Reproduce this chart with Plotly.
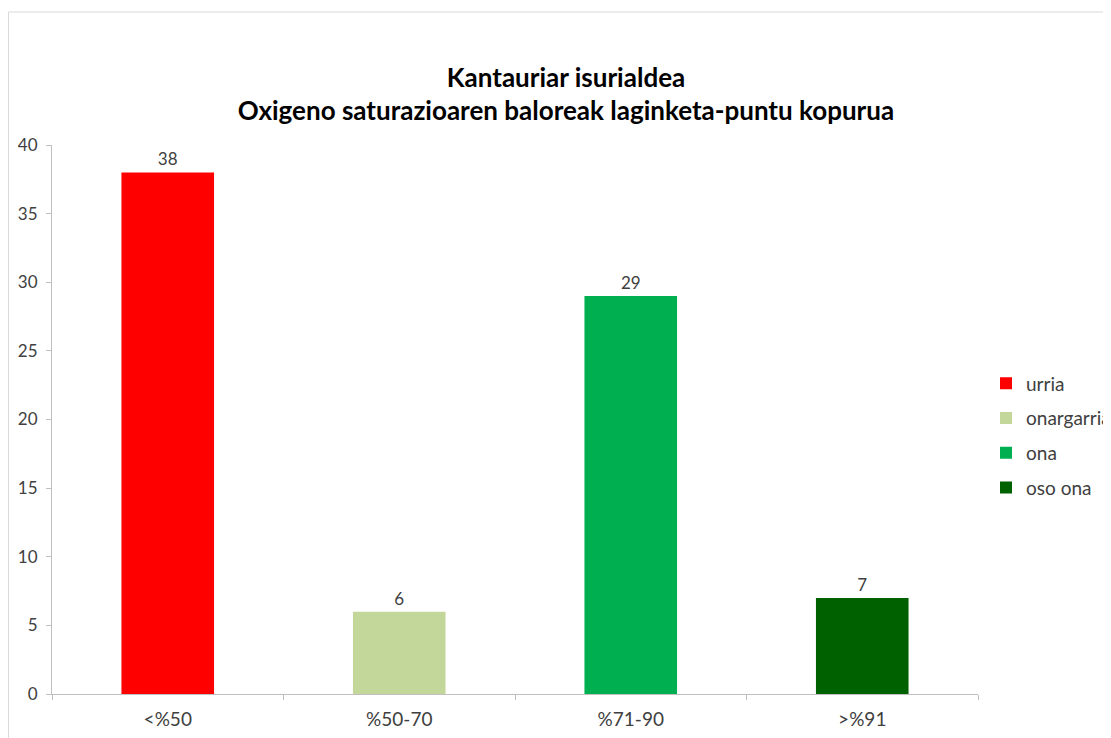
import plotly.graph_objects as go

categories = ["<%50", "%50-70", "%71-90", ">%91"]
values = [38, 6, 29, 7]
names = ["urria", "onargarria", "ona", "oso ona"]
colors = ["#FF0000", "#C4D79B", "#00B050", "#006100"]

OFF = 8  # default page body margin
W, H = 1111 - OFF, 738 - OFF
L, R, T, B = 52 - OFF, 978 - OFF, 145 - OFF, 694 - OFF
FONT = "Lato"

fig = go.Figure()
for i, (c, v, n, col) in enumerate(zip(categories, values, names, colors)):
    fig.add_trace(go.Bar(
        x=[c], y=[v], name=n, legendgroup=f"g{i}",
        marker=dict(color=col, line=dict(width=0)),
        text=[str(v)], textposition="outside",
        textfont=dict(size=17, color="#404040", family=FONT),
        width=0.4, cliponaxis=False,
    ))

fig.update_layout(
    width=W, height=H,
    margin=dict(l=L, r=W - R, t=T, b=H - B, pad=0, autoexpand=False),
    paper_bgcolor="white", plot_bgcolor="white",
    barmode="overlay",
    font=dict(family=FONT, size=17, color="#404040"),
    title=dict(
        text="Kantauriar isurialdea<br>Oxigeno saturazioaren baloreak laginketa-puntu kopurua",
        x=(566 - OFF) / W, xanchor="center", xref="container",
        y=1 - (86.5 - OFF) / H, yanchor="middle", yref="container",
        font=dict(family=FONT, size=26, color="black", weight="bold"),
    ),
    legend=dict(
        x=(986 - OFF) / W, xanchor="left", xref="container",
        y=1 - (435.5 - OFF) / H, yanchor="middle", yref="container",
        font=dict(family=FONT, size=19, color="#404040"),
        itemwidth=30, tracegroupgap=7, bgcolor="rgba(0,0,0,0)",
    ),
    showlegend=True,
)
fig.update_xaxes(
    type="category", categoryorder="array", categoryarray=categories,
    showline=True, linecolor="#BFBFBF", linewidth=1,
    ticks="outside", tickson="boundaries", ticklen=5, tickcolor="#BFBFBF",
    showgrid=False, tickfont=dict(size=19, color="#404040", family=FONT),
    ticklabelstandoff=8, automargin=False,
)
fig.update_yaxes(
    range=[0, 40], dtick=5, showline=True, linecolor="#BFBFBF", linewidth=1,
    ticks="outside", ticklen=5, tickcolor="#BFBFBF", showgrid=False,
    zeroline=False, tickfont=dict(size=17, color="#404040", family=FONT),
    ticklabelstandoff=5, automargin=False,
)

fig.add_shape(
    type="rect", xref="paper", yref="paper",
    x0=(8.5 - 52) / (978 - 52), x1=(1111 + 20 - 52) / (978 - 52),
    y0=(694 - (738 + 20)) / (694 - 145), y1=(694 - 12) / (694 - 145),
    line=dict(color="#D9D9D9", width=1), fillcolor="rgba(0,0,0,0)", layer="below",
)

fig.write_html("out.html")
